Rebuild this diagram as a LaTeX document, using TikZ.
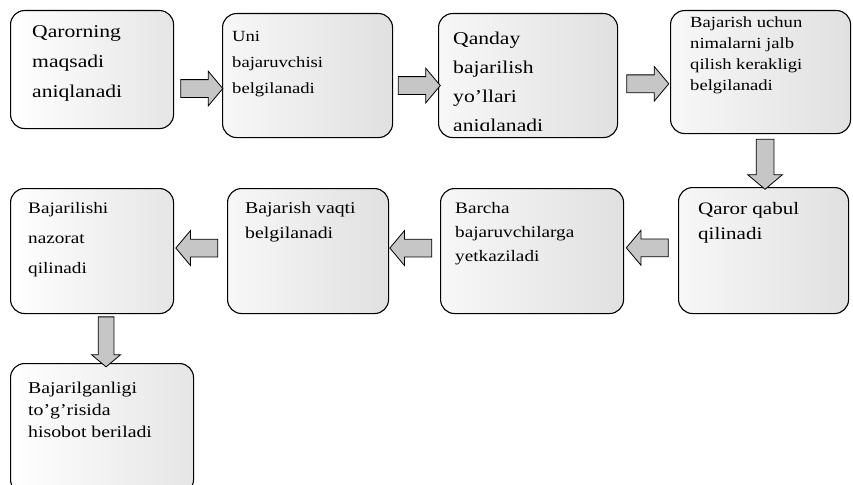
\documentclass[tikz,border=0pt]{standalone}
\usepackage{fontspec}
\setmainfont{Liberation Serif}[FakeStretch=1.2]
\usetikzlibrary{shapes.arrows, positioning, calc}

\begin{document}
\begin{tikzpicture}[x=1pt, y=-1pt,
    stage/.style={draw=black, line width=1.1pt, rounded corners=14pt,
        left color=gray!6, right color=gray!24, anchor=north west, inner sep=0pt},
    pale/.style={left color=white, right color=gray!20},
    txt/.style={anchor=north west, align=left, inner sep=0pt},
    flow/.style={single arrow, draw=black, line width=0.8pt, fill=gray!45,
        minimum height=42pt, inner sep=8.5pt, single arrow head extend=8.5pt,
        single arrow tip angle=100}]
    \useasboundingbox (0,0) rectangle (853,484);

    % Row 1
    \node[stage, pale, minimum width=163pt, minimum height=118pt] (b1) at (10,10) {};
    \node[stage, minimum width=170pt, minimum height=124pt] (b2) at (222,13) {};
    \node[stage, minimum width=179pt, minimum height=124pt] (b3) at (438,13) {};
    \node[stage, minimum width=180pt, minimum height=123pt] (b4) at (670,10) {};

    % Row 2
    \node[stage, minimum width=170pt, minimum height=126pt] (b5) at (678,187) {};
    \node[stage, minimum width=183pt, minimum height=125pt] (b6) at (440,188) {};
    \node[stage, minimum width=161pt, minimum height=125pt] (b7) at (227,188) {};
    \node[stage, pale, minimum width=163pt, minimum height=125pt] (b8) at (10,188) {};

    % Last box, cut by the page edge
    \node[stage, pale, minimum width=183pt, minimum height=130pt] (b9) at (10,363) {};

    % Texts
    \node[txt, font=\fontsize{18}{30}\selectfont] (t1) at ($(b1.north west)+(22,15.5)$)
        {Qarorning\\maqsadi\\aniqlanadi};
    \node[txt, font=\fontsize{15.5}{26}\selectfont] (t2) at ($(b2.north west)+(10,18)$)
        {Uni\\bajaruvchisi\\belgilanadi};
    \begin{scope}
        \clip (b3.north west) rectangle ($(b3.south east)+(0,-8)$);
        \node[txt, font=\fontsize{18}{29}\selectfont] (t3) at ($(b3.north west)+(15,18.5)$)
            {Qanday\\bajarilish\\yo'llari\\aniqlanadi};
    \end{scope}
    \node[txt, font=\fontsize{15.5}{21}\selectfont] (t4) at ($(b4.north west)+(20,7)$)
        {Bajarish uchun\\nimalarni jalb\\qilish kerakligi\\belgilanadi};
    \node[txt, font=\fontsize{17.5}{25}\selectfont] (t5) at ($(b5.north west)+(20,15.5)$)
        {Qaror qabul\\qilinadi};
    \node[txt, font=\fontsize{16}{24}\selectfont] (t6) at ($(b6.north west)+(15,14)$)
        {Barcha\\bajaruvchilarga\\yetkaziladi};
    \node[txt, font=\fontsize{16.5}{25}\selectfont] (t7) at ($(b7.north west)+(18,13.5)$)
        {Bajarish vaqti\\belgilanadi};
    \node[txt, font=\fontsize{16}{30}\selectfont] (t8) at ($(b8.north west)+(18,14)$)
        {Bajarilishi\\nazorat\\qilinadi};
    \node[txt, font=\fontsize{16.5}{22}\selectfont] (t9) at ($(b9.north west)+(18,18.5)$)
        {Bajarilganligi\\to'g'risida\\hisobot beriladi};

    % Block arrows
    \node[flow] (a1) at ($(b1.east)!0.5!(b2.west)+(0,16)$) {};
    \node[flow] (a2) at ($(b2.east)!0.5!(b3.west)+(0,10)$) {};
    \node[flow] (a3) at ($(b3.east)!0.5!(b4.west)+(0,10)$) {};
    \node[flow, minimum height=50pt, shape border rotate=270] (a4) at ($(b4.south)!0.5!(b5.north)+(3,0)$) {};
    \node[flow, shape border rotate=180] (a5) at ($(b5.west)!0.5!(b6.east)+(0,-3)$) {};
    \node[flow, shape border rotate=180] (a6) at ($(b6.west)!0.5!(b7.east)+(0,-3)$) {};
    \node[flow, shape border rotate=180] (a7) at ($(b7.west)!0.5!(b8.east)+(0,-3)$) {};
    \node[flow, minimum height=50pt, inner sep=7.5pt, single arrow head extend=6.5pt,
        shape border rotate=270] (a8) at ($(b8.south)!0.5!(b9.north)+(9,0)$) {};
\end{tikzpicture}
\end{document}
